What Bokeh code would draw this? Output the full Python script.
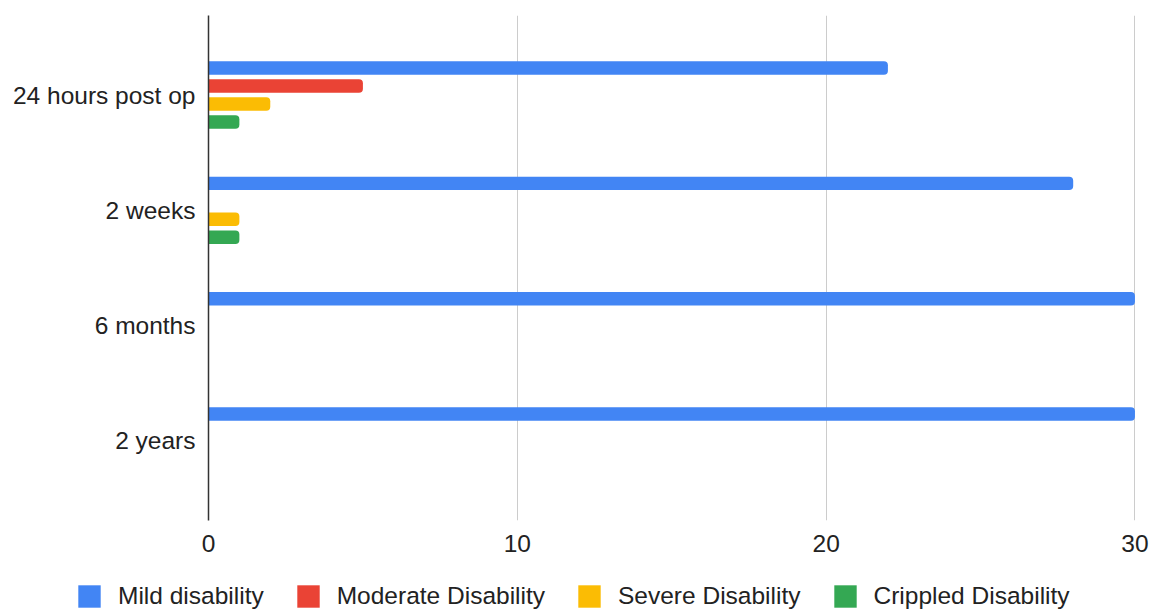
from bokeh.plotting import figure
from bokeh.models import ColumnDataSource, FactorRange, Range1d, Legend, LegendItem
from bokeh.layouts import column, row
from bokeh.transform import dodge
from bokeh.embed import file_html
from bokeh.resources import INLINE

categories = ["24 hours post op", "2 weeks", "6 months", "2 years"]
mild = [22, 28, 30, 30]
moderate = [5, 0, 0, 0]
severe = [2, 1, 0, 0]
crippled = [1, 1, 0, 0]
series_names = ["Mild disability", "Moderate Disability", "Severe Disability", "Crippled Disability"]
x_ticks = [0, 10, 20, 30]

colors = ["#4285F4", "#EA4335", "#FBBC04", "#34A853"]
offsets = [0.234, 0.078, -0.078, -0.234]
keys = ["mild", "moderate", "severe", "crippled"]
font = "Liberation Sans"
fsize = "24.5px"

source = ColumnDataSource(dict(cat=categories, mild=mild, moderate=moderate,
                               severe=severe, crippled=crippled))

yr = FactorRange(factors=list(reversed(categories)), range_padding=0.19,
                 range_padding_units="absolute")
p = figure(width=1152, height=560, y_range=yr, x_range=Range1d(0, 30.05),
           output_backend="svg", toolbar_location=None,
           min_border_left=208, min_border_right=16, min_border_top=15,
           min_border_bottom=40)
p.outline_line_color = None

for key, col, off in zip(keys, colors, offsets):
    p.hbar(y=dodge("cat", off, range=p.y_range), right=key, left=0, height=0.117,
           source=source, fill_color=col, line_color=None,
           border_radius=(0, 4, 4, 0))

# axes
p.yaxis.axis_line_color = "#333333"
p.yaxis.axis_line_width = 1.5
p.yaxis.major_tick_line_color = None
p.yaxis.minor_tick_line_color = None
p.yaxis.major_tick_out = 0
p.yaxis.major_tick_in = 0
p.yaxis.major_label_text_font = font
p.yaxis.major_label_text_font_size = fsize
p.yaxis.major_label_text_color = "#222222"
p.yaxis.major_label_standoff = 13

p.xaxis.ticker = x_ticks
p.xaxis.axis_line_color = None
p.xaxis.major_tick_line_color = None
p.xaxis.minor_tick_line_color = None
p.xaxis.major_label_text_font = font
p.xaxis.major_label_text_font_size = fsize
p.xaxis.major_label_text_color = "#222222"
p.xaxis.major_label_standoff = 8

p.ygrid.grid_line_color = None
p.xgrid.ticker = x_ticks
p.xgrid.grid_line_color = "#cccccc"
p.xgrid.grid_line_width = 1

# legend strip below the chart (series drawn off-range so only the legend shows)
lg = figure(width=1152, height=49, x_range=Range1d(-2, -1), y_range=Range1d(0, 1),
            output_backend="svg", toolbar_location=None,
            x_axis_location=None, y_axis_location=None,
            min_border_left=0, min_border_right=0, min_border_top=0, min_border_bottom=0)
lg.outline_line_color = None
lg.xgrid.visible = False
lg.ygrid.visible = False
legend_renderers = []
for key, col in zip(keys, colors):
    legend_renderers.append(lg.hbar(y=0.5, right=key, left=0, height=0.1, source=source,
                                    fill_color=col, line_color=None))

legend = Legend(items=[LegendItem(label=n, renderers=[r]) for n, r in zip(series_names, legend_renderers)],
                orientation="horizontal", location=(75, -1),
                glyph_width=28, glyph_height=28, label_standoff=15, spacing=30,
                padding=0, margin=0, border_line_color=None, background_fill_alpha=0,
                label_text_font=font, label_text_font_size=fsize,
                label_text_color="#222222", label_height=28)
lg.add_layout(legend, "center")

layout = column(p, row(lg, spacing=0), spacing=0)
open("out.html", "w").write(file_html(layout, INLINE))
